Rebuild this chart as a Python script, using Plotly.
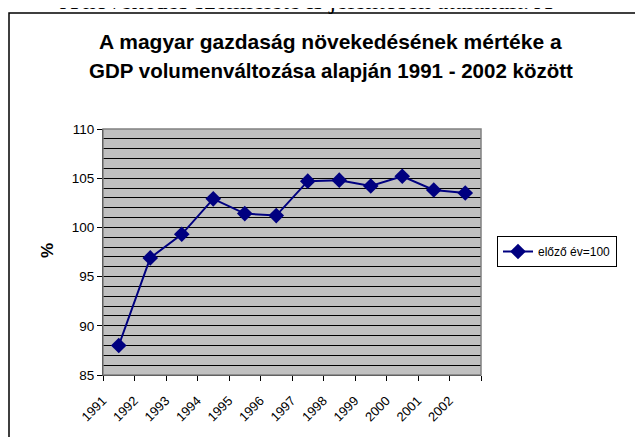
import plotly.graph_objects as go

years = ["1991", "1992", "1993", "1994", "1995", "1996",
         "1997", "1998", "1999", "2000", "2001", "2002"]
gdp_index = [88.0, 96.9, 99.3, 102.9, 101.4, 101.2,
             104.7, 104.8, 104.2, 105.2, 103.8, 103.5]

series_name = "előző év=100"
title_line1 = "A magyar gazdaság növekedésének mértéke a"
title_line2 = "GDP volumenváltozása alapján 1991 - 2002 között"
page_text = "A növekedés szemlélete is jelentősen átalakult. A"

# the page body adds an 8px margin, so the figure is drawn 8px in
OFF = 8
W, H = 643 - OFF, 437 - OFF
# plot area, in screen pixels
L, R, T, B = 103, 481, 129, 375


def px_x(px):
    return (px - L) / (R - L)


def px_y(py):
    return (B - py) / (B - T)


fig = go.Figure()
fig.add_trace(go.Scatter(
    x=years, y=gdp_index, name=series_name, mode="lines+markers",
    line=dict(color="#000080", width=2),
    marker=dict(symbol="diamond", size=12, color="#000080"),
))

fig.update_layout(
    width=W, height=H,
    margin=dict(l=L - OFF, r=W - (R - OFF), t=T - OFF, b=H - (B - OFF)),
    paper_bgcolor="white", plot_bgcolor="#C0C0C0",
    font=dict(family="Liberation Sans, Arial", color="black", size=12),
    showlegend=True,
    legend=dict(x=px_x(497), y=px_y(236), xanchor="left", yanchor="top",
                bordercolor="black", borderwidth=1, bgcolor="white",
                font=dict(size=12), tracegroupgap=0),
    annotations=[
        dict(text="<b>" + title_line1 + "</b>", xref="paper", yref="paper",
             x=px_x(330), y=px_y(41), xanchor="center", yanchor="middle",
             showarrow=False, font=dict(size=21)),
        dict(text="<b>" + title_line2 + "</b>", xref="paper", yref="paper",
             x=px_x(331), y=px_y(70), xanchor="center", yanchor="middle",
             showarrow=False, font=dict(size=20.5)),
        dict(text="<b>%</b>", xref="paper", yref="paper",
             x=px_x(47), y=px_y(251), xanchor="center", yanchor="middle",
             showarrow=False, textangle=-90, font=dict(size=17)),
        # bottom of a line of the surrounding document, cut off at the top
        dict(text=page_text, xref="paper", yref="paper",
             x=px_x(58), y=px_y(0), xanchor="left", yanchor="middle",
             showarrow=False,
             font=dict(family="Liberation Serif, Times New Roman", size=25)),
    ],
    shapes=[
        # outer chart frame (runs off the right and bottom edges)
        dict(type="rect", xref="paper", yref="paper",
             x0=px_x(9), x1=px_x(700), y0=px_y(500), y1=px_y(13),
             line=dict(color="black", width=1.5), layer="below"),
        # gray plot border
        dict(type="rect", xref="paper", yref="paper",
             x0=0, x1=1, y0=0, y1=1,
             line=dict(color="#808080", width=1.5), layer="above"),
    ],
)

fig.update_xaxes(
    type="category", range=[-0.5, len(years) - 0.5],
    tickangle=-45, tickson="boundaries",
    ticks="outside", ticklen=5, tickcolor="black",
    showline=True, linecolor="black", linewidth=1,
    showgrid=False, tickfont=dict(size=13),
    ticklabelshift=-16, ticklabelstandoff=12,
)
fig.update_yaxes(
    range=[85, 110], dtick=5, ticks="outside", ticklen=5, tickcolor="black",
    showline=True, linecolor="black", linewidth=1,
    showgrid=True, gridcolor="black", gridwidth=1, zeroline=False,
    tickfont=dict(size=13.5),
    minor=dict(dtick=1, showgrid=True, gridcolor="black", gridwidth=1),
)

fig.write_html("out.html")
